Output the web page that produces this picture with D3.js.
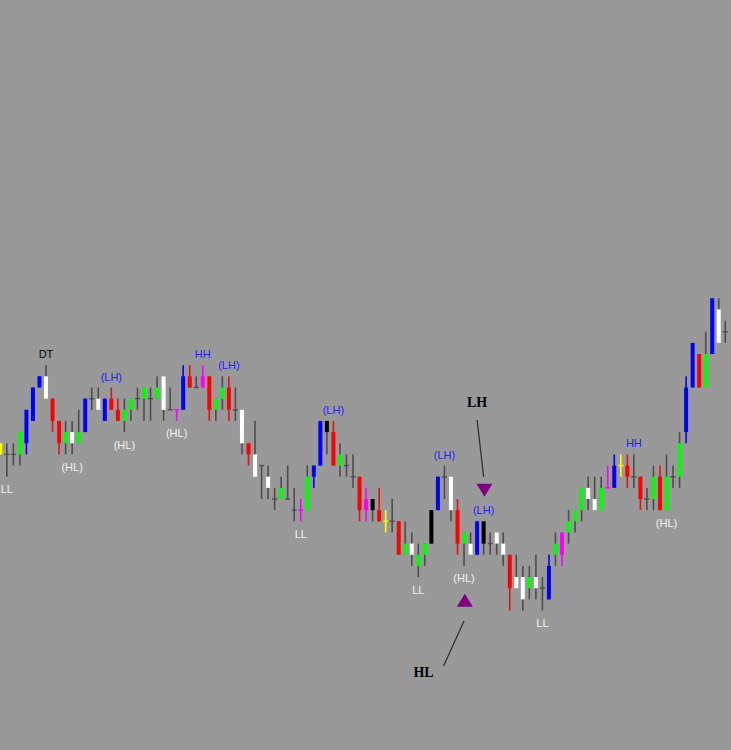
<!DOCTYPE html>
<html>
<head>
<meta charset="utf-8">
<script src="https://cdn.jsdelivr.net/npm/d3@7"></script>
<style>
html,body{margin:0;padding:0;background:#999999;}
svg{display:block;}
</style>
</head>
<body>
<div id="chart"></div>
<script>
// ---- DATA (price levels, one unit = one tick step on the chart) ----
const highs  = [115,115,115,116,118,120,121,122,119,117,117,117,118,119,120,120,119,120,119,119,
                119,120,120,120,121,121,120,118,122,122,121,122,121,119,121,121,120,118,115,117,
                113,113,111,112,113,111,110,113,113,117,117,117,115,114,114,112,111,110,111,109,
                110,108,108,107,106,106,109,112,113,112,110,107,107,108,108,107,107,107,105,105,
                104,104,105,103,105,107,107,109,109,111,112,112,112,113,114,114,114,114,112,111,
                113,113,114,113,116,121,124,123,125,128,128,126];
const lows   = [114,112,113,113,114,117,120,119,116,114,114,114,115,116,118,118,117,118,117,116,
                117,118,117,117,119,117,118,117,118,120,120,120,117,117,118,117,117,114,113,112,
                110,110,109,110,110,108,108,109,111,113,114,113,112,112,111,108,108,108,108,107,
                107,105,105,104,103,104,106,109,110,108,105,104,105,105,105,105,105,104,100,102,
                100,101,101,100,101,104,104,106,107,108,109,109,109,111,111,112,111,111,109,109,
                109,109,109,111,111,115,120,120,120,123,124,124];
const opens  = [115,114,114,116,118,120,121,121,119,117,116,116,116,119,119,119,119,119,118,118,
                119,119,120,119,120,121,118,118,121,121,120,121,121,119,120,120,118,118,115,114,
                113,112,110,111,110,109,109,112,113,117,117,116,114,113,112,112,110,110,109,108,
                108,108,106,106,105,106,109,112,112,112,109,107,106,108,108,106,107,106,105,103,
                103,103,103,102,104,106,107,108,109,111,111,110,111,111,113,113,113,112,112,110,
                112,112,112,112,115,120,124,123,123,128,127,125];
const closes = [114,114,114,114,115,117,120,119,117,115,115,115,115,116,119,118,117,118,117,117,
                118,119,119,119,119,118,118,118,118,120,120,120,118,118,119,118,118,115,114,112,
                113,111,110,110,110,109,109,109,112,113,116,113,113,113,112,109,109,109,108,108,
                108,105,105,105,104,105,106,109,112,109,106,106,105,105,106,106,106,105,102,102,
                101,102,102,102,101,105,105,107,108,109,110,109,109,111,111,113,112,112,110,110,
                110,109,109,112,112,116,120,120,120,123,124,125];
// bar colour codes: g green, b blue, w white, r red, k black, m magenta, y yellow, n neutral
const barColors = ("y n n g b b b w r r g w g b n w b r r g " +
                   "g n g n g w n m b r n m r g g r n w r w " +
                   "n w n g n n m g b b k r g n n r m k r y " +
                   "n r g w g g k b n w r g w b k n w w r w " +
                   "w g w n b g m g g g w w g m b y r n r n " +
                   "g r g n g b b r g b w n").split(" ");

// swing labels
const labelBars  = [1, 7, 11, 17, 19, 27, 31, 35, 46, 51, 64, 68, 71, 74, 83, 97, 102];
const labelTexts = ["LL","DT","(HL)","(LH)","(HL)","(HL)","HH","(LH)","LL","(LH)","LL","(LH)","(HL)","(LH)","LL","HH","(HL)"];
const labelSides = ["below","above","below","above","below","below","above","above","below","above","below","above","below","above","below","above","below"];

// arrow markers (tip price)
const markerBars   = [74, 71];
const markerPrices = [110.2, 101.5];
const markerDirs   = ["down", "up"];

// callout notes
const noteTexts     = ["LH", "HL"];
const noteBars      = [73, 64.8];
const notePrices    = [118.25, 94.0];
const noteFromBars  = [73, 71];
const noteFromPrice = [117.1, 99.06];
const noteToBars    = [74, 67.87];
const noteToPrice   = [111.97, 95.02];

// ---- DRAW ----
const W = 731, H = 750;
const svg = d3.select("#chart").append("svg").attr("width", W).attr("height", H);
svg.append("rect").attr("width", W).attr("height", H).attr("fill", "#999999");

const x = d3.scaleLinear().domain([0, highs.length - 1]).range([0.3, 725.3]);
const y = d3.scaleLinear().domain([128, 100]).range([298.3, 610.5]);

const colorMap = {g:"#00ff00", b:"#0000ff", w:"#ffffff", r:"#ff0000", k:"#000000", m:"#ff00ff", y:"#ffff00", n:"#4d4d4d"};
const wickMap  = {g:"#4d4d4d", b:"#0000ff", w:"#4d4d4d", r:"#e81010", k:"#4d4d4d", m:"#ff00ff", y:"#ffff00", n:"#4d4d4d"};

const bars = highs.map((h, i) => ({i, h, l: lows[i], o: opens[i], c: closes[i], col: barColors[i]}));

const g = svg.append("g");
// wicks
g.selectAll("rect.wick").data(bars).join("rect")
  .attr("class", "wick")
  .attr("x", d => x(d.i) - 0.8)
  .attr("width", 1.6)
  .attr("y", d => y(d.h))
  .attr("height", d => y(d.l) - y(d.h))
  .attr("fill", d => wickMap[d.col]);
// bodies
g.selectAll("rect.body").data(bars).join("rect")
  .attr("class", "body")
  .attr("x", d => x(d.i) - (d.o === d.c ? 2.5 : 2))
  .attr("width", d => d.o === d.c ? 5 : 4)
  .attr("y", d => d.o === d.c ? y(d.o) - 0.7 : y(Math.max(d.o, d.c)))
  .attr("height", d => d.o === d.c ? 1.4 : y(Math.min(d.o, d.c)) - y(Math.max(d.o, d.c)))
  .attr("fill", d => colorMap[d.col]);

// labels
const labelColor = t => (t === "DT" ? "#000000" : (t.indexOf("LH") >= 0 || t === "HH") ? "#2222ff" : "#f2f2f2");
svg.selectAll("text.lbl").data(labelBars.map((b, k) => ({b, t: labelTexts[k], s: labelSides[k]}))).join("text")
  .attr("class", "lbl")
  .attr("x", d => x(d.b))
  .attr("y", d => d.s === "above" ? y(highs[d.b]) - 7 : y(lows[d.b]) + 16.5)
  .attr("text-anchor", "middle")
  .attr("font-family", "'Liberation Sans', Arial, sans-serif")
  .attr("font-size", 11)
  .attr("fill", d => labelColor(d.t))
  .text(d => d.t);

// markers
const tri = d3.symbol().type(d3.symbolTriangle);
markerBars.forEach((b, k) => {
  const cx = x(b) + 0.8, tip = y(markerPrices[k]);
  const w = 16, h = 13;
  const pts = markerDirs[k] === "down"
    ? [[cx - w/2, tip - h], [cx + w/2, tip - h], [cx, tip]]
    : [[cx - w/2, tip + h], [cx + w/2, tip + h], [cx, tip]];
  svg.append("path").attr("d", d3.line()(pts) + "Z").attr("fill", "#800080");
});

// callouts
noteTexts.forEach((t, k) => {
  svg.append("line")
    .attr("x1", x(noteFromBars[k])).attr("y1", y(noteFromPrice[k]))
    .attr("x2", x(noteToBars[k])).attr("y2", y(noteToPrice[k]))
    .attr("stroke", "#333333").attr("stroke-width", 1.3);
  svg.append("text")
    .attr("x", x(noteBars[k])).attr("y", y(notePrices[k]))
    .attr("text-anchor", "middle")
    .attr("font-family", "'Liberation Serif', 'Times New Roman', serif")
    .attr("font-weight", "bold").attr("font-size", 14)
    .attr("fill", "#000000")
    .text(t);
});
</script>
</body>
</html>
